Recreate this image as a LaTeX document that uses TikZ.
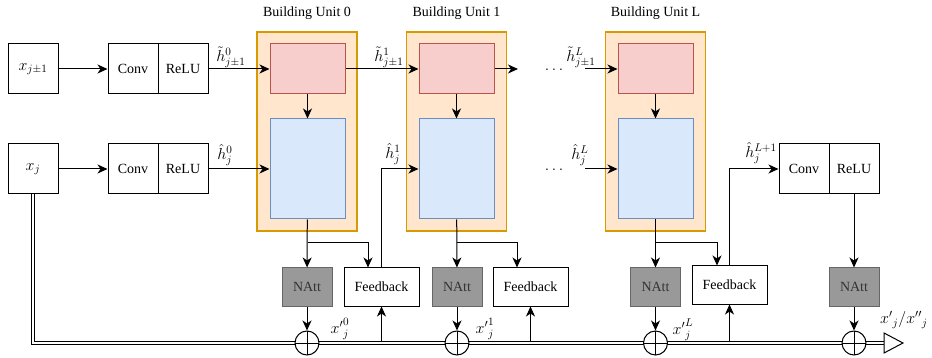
\RequirePackage{fix-cm}
\documentclass[tikz,border=0pt]{standalone}
\usepackage[no-math]{fontspec}
\setmainfont{Liberation Serif}
\usetikzlibrary{arrows.meta}

\definecolor{unitLine}{HTML}{D79B00}
\definecolor{unitFill}{HTML}{FFE6CC}
\definecolor{upLine}{HTML}{B85450}
\definecolor{upFill}{HTML}{F8CECC}
\definecolor{loLine}{HTML}{6C8EBF}
\definecolor{loFill}{HTML}{DAE8FC}
\definecolor{attLine}{HTML}{666666}
\definecolor{attFill}{HTML}{999999}
\definecolor{attText}{HTML}{333333}

\begin{document}
\begin{tikzpicture}[x=1pt, y=-1pt,
  txt/.style={font=\fontsize{14}{16}\selectfont, inner sep=0pt},
  mth/.style={font=\fontsize{16}{18}\selectfont, inner sep=0pt},
  sq/.style={txt, draw, line width=1pt, minimum width=50pt, minimum height=50pt},
  unitbox/.style={draw=unitLine, fill=unitFill, line width=1.1pt, minimum width=100pt, minimum height=199pt},
  upbox/.style={draw=upLine, fill=upFill, line width=1pt, minimum width=75pt, minimum height=50pt},
  lobox/.style={draw=loLine, fill=loFill, line width=1pt, minimum width=75pt, minimum height=100pt},
  natt/.style={txt, draw=attLine, fill=attFill, text=attText, line width=1pt, minimum width=50pt, minimum height=38pt},
  fb/.style={txt, draw, fill=white, line width=1pt, minimum width=75pt, minimum height=38pt},
  sum/.style={circle, draw, fill=white, line width=1pt, minimum size=24pt, inner sep=0pt,
    path picture={\draw[line width=1pt] (path picture bounding box.north) -- (path picture bounding box.south)
      (path picture bounding box.west) -- (path picture bounding box.east);}},
  arr/.style={line width=1pt, -{Stealth[length=10pt, width=9pt, inset=3pt]}},
  ln/.style={line width=1pt},
  bus/.style={line width=1pt, double=white, double distance=2.3pt},
  lab/.style={mth}
]
\useasboundingbox (0,0) rectangle (932,358);

% inputs
\node[sq, mth] (xpm) at (33,69) {$x_{j\pm1}$};
\node[sq, mth] (xj)  at (33,169) {$x_{j}$};

% stems
\node[sq] (conv1) at (133,69) {Conv};
\node[sq] (relu1) at (183,69) {ReLU};
\node[sq] (conv2) at (133,169) {Conv};
\node[sq] (relu2) at (183,169) {ReLU};

% building units
\node[unitbox] (u0) at (307,131.5) {};
\node[unitbox] (u1) at (456.5,131.5) {};
\node[unitbox] (uL) at (655.5,131.5) {};
\node[txt] (t0) at (307,13) {Building Unit 0};
\node[txt] (t1) at (456.5,13) {Building Unit 1};
\node[txt] (tL) at (655.5,13) {Building Unit L};

\node[upbox] (r0) at (307.5,69) {};
\node[lobox] (b0) at (307.5,169) {};
\node[upbox] (r1) at (456.5,69) {};
\node[lobox] (b1) at (456.5,169) {};
\node[upbox] (rL) at (655.5,69) {};
\node[lobox] (bL) at (655.5,169) {};

% attention and feedback blocks
\node[natt] (n0) at (307,287) {NAtt};
\node[fb]   (f0) at (381.5,287) {Feedback};
\node[natt] (n1) at (457,287) {NAtt};
\node[fb]   (f1) at (530.5,287) {Feedback};
\node[natt] (nL) at (655.5,287) {NAtt};
\node[fb]   (fL) at (729.5,285) {Feedback};
\node[natt] (nR) at (854,287) {NAtt};

% output stem
\node[sq] (conv3) at (804,169) {Conv};
\node[sq] (relu3) at (854,169) {ReLU};

% ellipses between units
\node[mth, anchor=base] (d1) at (554,70.5) {$.\,.\,.$};
\node[mth, anchor=base] (d2) at (554,170.5) {$.\,.\,.$};

% free ends
\coordinate (r1out) at (518,69);
\coordinate (inLtop) at (585,69);
\coordinate (inLbot) at (585,169);
\coordinate (busline) at (0,343);
\coordinate (bustop) at (0,341.3);
\coordinate (busend) at (884,343);

% top row connectors
\draw[arr] (xpm) -- (conv1);
\draw[arr] (relu1) -- (r0);
\draw[arr] (r0) -- (r1);
\draw[arr] (r1) -- (r1out);
\draw[arr] (inLtop) -- (rL);
\draw[arr] (r0) -- (b0);
\draw[arr] (r1) -- (b1);
\draw[arr] (rL) -- (bL);

% bottom row connectors
\draw[arr] (xj) -- (conv2);
\draw[arr] (relu2) -- (b0.west |- relu2);
\draw[arr] (inLbot) -- (bL.west |- inLbot);

% unit outputs to attention and feedback
\draw[arr] (b0) -- (n0);
\draw[arr] (b0.south |- 0,243) -| ([xshift=-13.5pt]f0.north);
\draw[arr] (b1) -- (n1);
\draw[arr] (b1.south |- 0,243) -| ([xshift=-13.5pt]f1.north);
\draw[arr] (bL) -- (nL);
\draw[arr] (bL.south |- 0,243) -| ([xshift=-12.5pt]fL.north);

% feedback paths
\draw[arr] (f0.north) |- (b1.west |- relu2);
\draw[arr] (fL.north) |- (conv3.west);
\draw[arr] (relu3) -- (nR);

% residual bus
\draw[bus] (xj.south) |- (busend);
\draw[ln, fill=white] (884,333) -- (903,343) -- (884,353) -- cycle;

\draw[arr] (f0.south |- bustop) -- (f0.south);
\draw[arr] (f1.south |- bustop) -- (f1.south);
\draw[arr] (fL.south |- bustop) -- (fL.south);

\node[sum] (s0) at (307,343) {};
\node[sum] (s1) at (457,343) {};
\node[sum] (sL) at (655.5,343) {};
\node[sum] (sR) at (854,343) {};

\draw[arr] (n0) -- (s0);
\draw[arr] (n1) -- (s1);
\draw[arr] (nL) -- (sL);
\draw[arr] (nR) -- (sR);

% labels
\node[lab] (l1) at (231,57) {$\tilde{h}^{0}_{j\pm1}$};
\node[lab] (l2) at (225,155) {$\hat{h}^{0}_{j}$};
\node[lab] (l3) at (389,57) {$\tilde{h}^{1}_{j\pm1}$};
\node[lab] (l4) at (393,154) {$\hat{h}^{1}_{j}$};
\node[lab] (l5) at (581,57) {$\tilde{h}^{L}_{j\pm1}$};
\node[lab] (l6) at (580,155) {$\hat{h}^{L}_{j}$};
\node[lab] (l7) at (761,153) {$\hat{h}^{L+1}_{j}$};
\node[lab] (l8) at (340,329) {${x'}^{0}_{j}$};
\node[lab] (l9) at (485,329) {${x'}^{1}_{j}$};
\node[lab] (l10) at (683,330) {${x'}^{L}_{j}$};
\node[lab, anchor=west] (l11) at (880,320) {$x'{}_j/x''{}_j$};
\end{tikzpicture}
\end{document}
